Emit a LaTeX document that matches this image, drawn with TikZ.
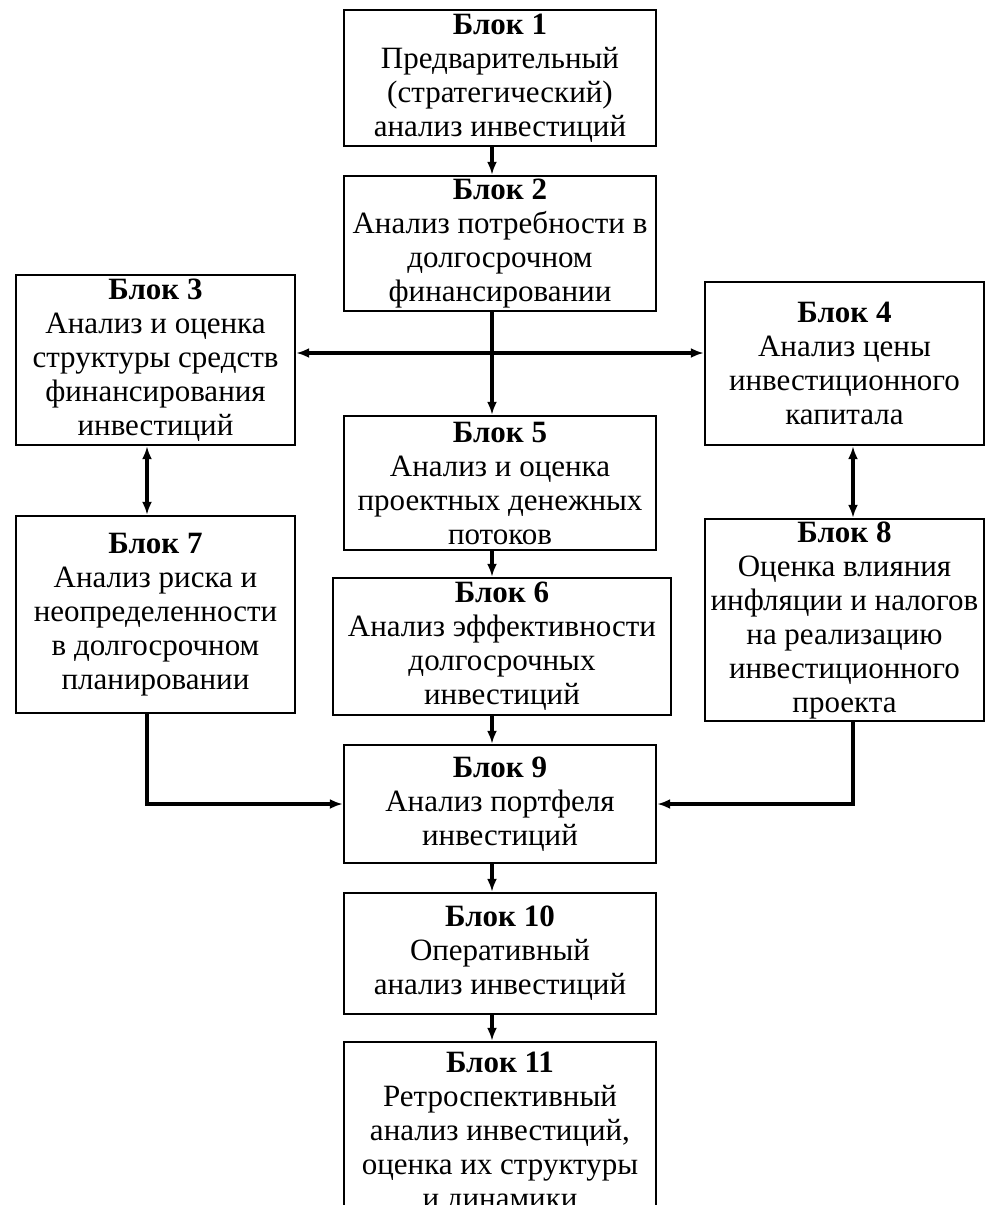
\documentclass[tikz,border=0pt]{standalone}
\usepackage{fontspec}
\setmainfont{Liberation Serif}
\usetikzlibrary{arrows.meta}

\tikzset{
	blok/.style={draw, line width=1.2pt, align=center, inner sep=0pt,
		font=\fontsize{15.5}{17}\selectfont},
	strelka/.style={line width=1.7pt, -{Latex[length=6.5pt,width=5pt]}},
	dvestrelki/.style={line width=1.7pt, {Latex[length=6.5pt,width=5pt]}-{Latex[length=6.5pt,width=5pt]}}
}

\begin{document}
\begin{tikzpicture}[x=0.5pt,y=-0.5pt]
						\useasboundingbox (0,0) rectangle (986,1205);
						% axes of the connectors
						\coordinate (os) at (492,0);
						\coordinate (lev) at (147,0);
						\coordinate (prav) at (853,0);
						\coordinate (gor) at (0,353);
						% middle column
						\node[blok, minimum width=156pt, minimum height=68pt] (b1) at (500,78)
							{\textbf{Блок 1}\\Предварительный\\(стратегический)\\анализ инвестиций};
						\node[blok, minimum width=156pt, minimum height=67.5pt] (b2) at (500,243.5)
							{\textbf{Блок 2}\\Анализ потребности в\\долгосрочном\\финансировании};
						\node[blok, minimum width=156pt, minimum height=67pt] (b5) at (500,483)
							{\textbf{Блок 5}\\Анализ и оценка\\проектных денежных\\потоков};
						\node[blok, minimum width=169pt, minimum height=68.5pt] (b6) at (502,646.5)
							{\textbf{Блок 6}\\Анализ эффективности\\долгосрочных\\инвестиций};
						\node[blok, minimum width=156pt, minimum height=59pt] (b9) at (500,804)
							{\textbf{Блок 9}\\Анализ портфеля\\инвестиций};
						\node[blok, minimum width=156pt, minimum height=60.5pt] (b10) at (500,953.5)
							{\textbf{Блок 10}\\Оперативный\\анализ инвестиций};
						\node[blok, minimum width=156pt, minimum height=91.5pt] (b11) at (500,1133.5)
							{\textbf{Блок 11}\\Ретроспективный\\анализ инвестиций,\\оценка их структуры\\и динамики};
						% side columns
						\node[blok, minimum width=139.5pt, minimum height=85pt] (b3) at (155.5,360)
							{\textbf{Блок 3}\\Анализ и оценка\\структуры средств\\финансирования\\инвестиций};
						\node[blok, minimum width=139.5pt, minimum height=98.5pt] (b7) at (155.5,614.5)
							{\textbf{Блок 7}\\Анализ риска и\\неопределенности\\в долгосрочном\\планировании};
						\node[blok, minimum width=139.5pt, minimum height=81.5pt] (b4) at (844.5,363.5)
							{\textbf{Блок 4}\\Анализ цены\\инвестиционного\\капитала};
						\node[blok, minimum width=139.5pt, minimum height=101pt] (b8) at (844.5,620)
							{\textbf{Блок 8}\\Оценка влияния\\инфляции и налогов\\на реализацию\\инвестиционного\\проекта};
						% connectors
						\draw[strelka] (b1.south -| os) -- (b2.north -| os);
						\draw[strelka] (b2.south -| os) -- (b5.north -| os);
						\draw[dvestrelki] (b3.east |- gor) -- (b4.west |- gor);
						\draw[dvestrelki] (b3.south -| lev) -- (b7.north -| lev);
						\draw[dvestrelki] (b4.south -| prav) -- (b8.north -| prav);
						\draw[strelka] (b5.south -| os) -- (b6.north -| os);
						\draw[strelka] (b6.south -| os) -- (b9.north -| os);
						\draw[strelka] (b7.south -| lev) |- (b9.west);
						\draw[strelka] (b8.south -| prav) |- (b9.east);
						\draw[strelka] (b9.south -| os) -- (b10.north -| os);
						\draw[strelka] (b10.south -| os) -- (b11.north -| os);
\end{tikzpicture}
\end{document}
